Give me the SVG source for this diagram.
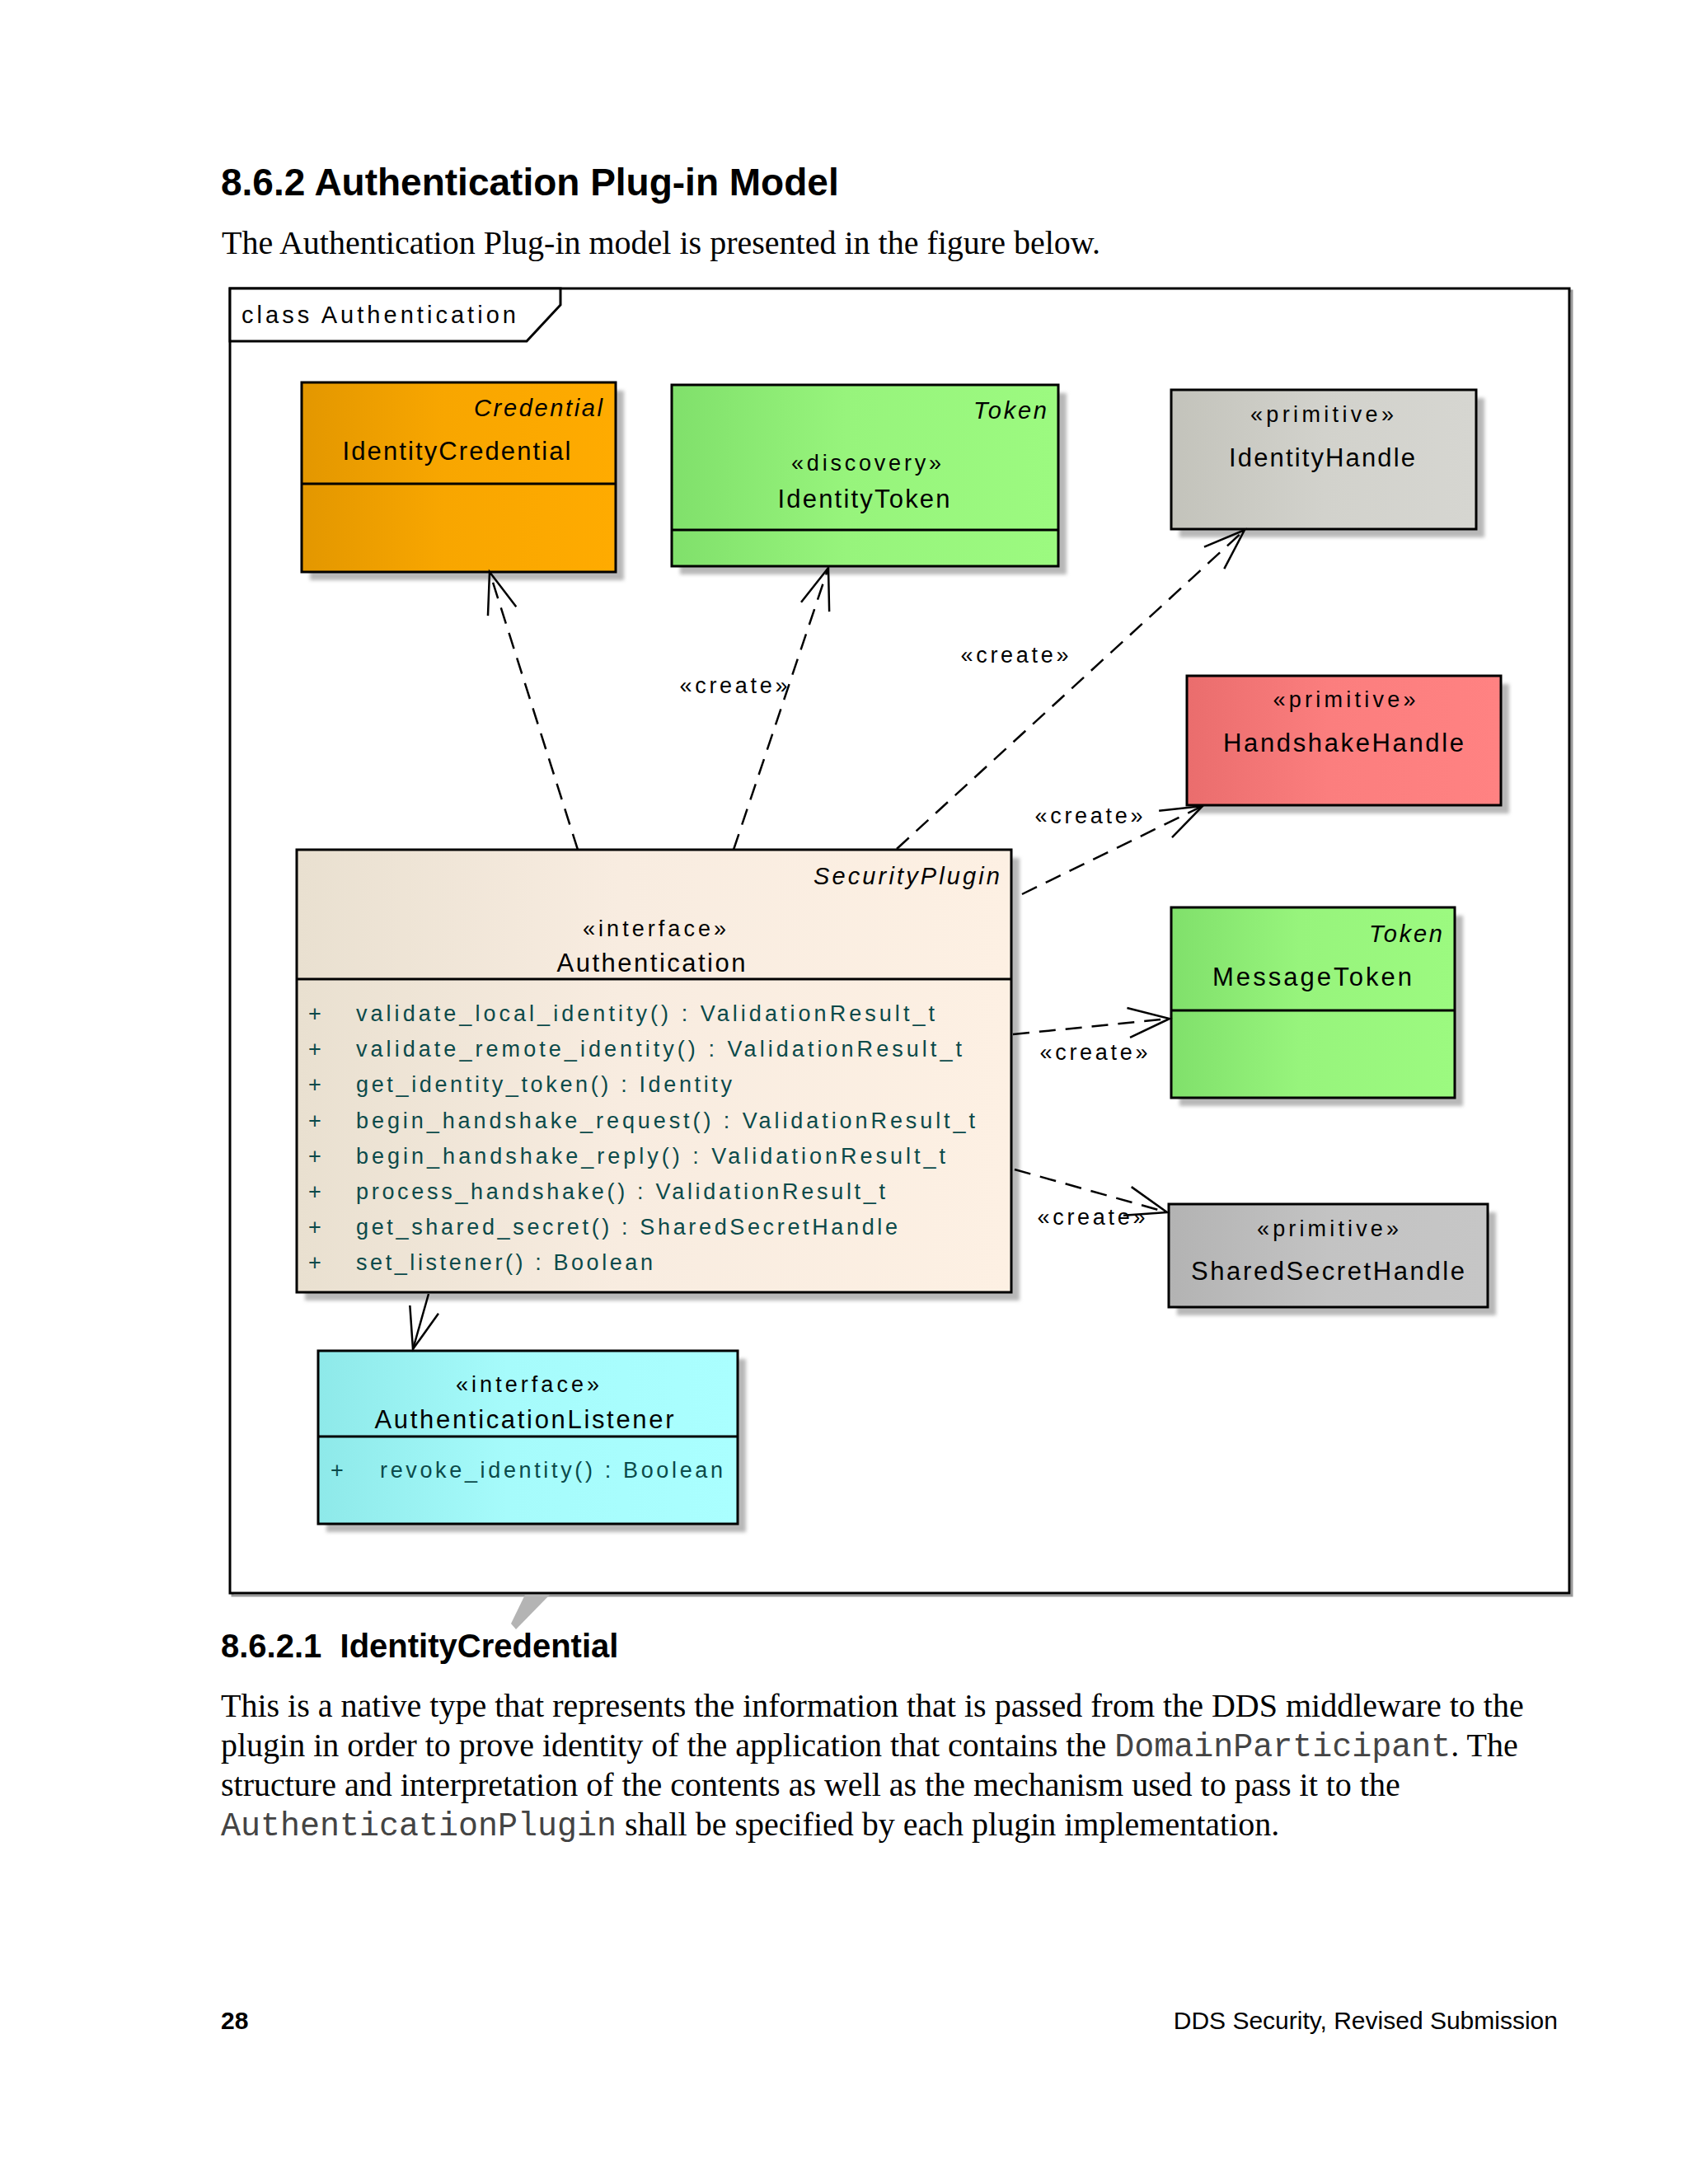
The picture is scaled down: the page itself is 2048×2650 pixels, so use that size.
<svg xmlns="http://www.w3.org/2000/svg" width="2048" height="2650" viewBox="0 0 2048 2650">
<defs>
<style>
.h1{font-family:"Liberation Sans",Arial,sans-serif;font-weight:bold;font-size:46px;fill:#000}
.h2{font-family:"Liberation Sans",Arial,sans-serif;font-weight:bold;font-size:40px;fill:#000}
.body{font-family:"Liberation Serif","Times New Roman",serif;font-size:40px;fill:#000}
.mono{font-family:"Liberation Mono","Courier New",monospace;font-size:40px;fill:#444}
.foot{font-family:"Liberation Sans",Arial,sans-serif;font-size:30px;fill:#000}
.box{stroke:#000;stroke-width:3}
.div{stroke:#000;stroke-width:3}
.shadow{fill:#b8b8b8;filter:url(#blur)}
.name{font-family:"Liberation Sans",Arial,sans-serif;font-size:31px;fill:#000}
.ster{font-family:"Liberation Sans",Arial,sans-serif;font-size:27px;fill:#000}
.par{font-family:"Liberation Sans",Arial,sans-serif;font-size:29px;font-style:italic;fill:#000}
.op{font-family:"Liberation Sans",Arial,sans-serif;font-size:27px;fill:#0b4a4a}
.lbl{font-family:"Liberation Sans",Arial,sans-serif;font-size:27px;fill:#000}
.frametxt{font-family:"Liberation Sans",Arial,sans-serif;font-size:29px;fill:#000}
.dep{fill:none;stroke:#000;stroke-width:2.5;stroke-dasharray:20 12}
.assoc{fill:none;stroke:#000;stroke-width:2.5}
</style>
<filter id="blur" x="-5%" y="-5%" width="110%" height="110%"><feGaussianBlur stdDeviation="2"/></filter>
<marker id="open" markerUnits="userSpaceOnUse" viewBox="-60 -30 70 60" markerWidth="70" markerHeight="60" refX="0" refY="0" orient="auto">
<path d="M-50,-18 L0,0 L-50,18" fill="none" stroke="#000" stroke-width="2.5"/>
</marker>
<linearGradient id="gOrange" x1="0" y1="0" x2="1" y2="0"><stop offset="0" stop-color="#e39700"/><stop offset="0.45" stop-color="#f8a600"/><stop offset="1" stop-color="#ffab00"/></linearGradient>
<linearGradient id="gGreen" x1="0" y1="0" x2="1" y2="0"><stop offset="0" stop-color="#80e06b"/><stop offset="0.45" stop-color="#97f47c"/><stop offset="1" stop-color="#9cfa80"/></linearGradient>
<linearGradient id="gGray1" x1="0" y1="0" x2="1" y2="0"><stop offset="0" stop-color="#c3c3bb"/><stop offset="0.5" stop-color="#d2d2cc"/><stop offset="1" stop-color="#d6d6d1"/></linearGradient>
<linearGradient id="gRed" x1="0" y1="0" x2="1" y2="0"><stop offset="0" stop-color="#ea6d6d"/><stop offset="0.45" stop-color="#fb7e7e"/><stop offset="1" stop-color="#ff8282"/></linearGradient>
<linearGradient id="gBeige" x1="0" y1="0" x2="1" y2="0"><stop offset="0" stop-color="#e9e0d0"/><stop offset="0.45" stop-color="#f8ece0"/><stop offset="1" stop-color="#fdf0e3"/></linearGradient>
<linearGradient id="gGray2" x1="0" y1="0" x2="1" y2="0"><stop offset="0" stop-color="#b3b3b3"/><stop offset="0.5" stop-color="#c3c3c3"/><stop offset="1" stop-color="#c6c6c6"/></linearGradient>
<linearGradient id="gCyan" x1="0" y1="0" x2="1" y2="0"><stop offset="0" stop-color="#8ee9e9"/><stop offset="0.45" stop-color="#a6fbfb"/><stop offset="1" stop-color="#aaffff"/></linearGradient>
</defs>
<rect x="0" y="0" width="2048" height="2650" fill="#ffffff"/>

<text class="h1" x="268" y="237">8.6.2 Authentication Plug-in Model</text>
<text class="body" x="269" y="308">The Authentication Plug-in model is presented in the figure below.</text>

<g id="frame">
<rect x="282" y="353" width="1625" height="1583" fill="none" stroke="#9a9a9a" stroke-width="3"/>
<rect x="279" y="350" width="1625" height="1583" fill="#fff" stroke="#000" stroke-width="3"/>
<polygon points="279,350 680,350 680,370 639,414 279,414" fill="#fff" stroke="#000" stroke-width="3"/>
<text class="frametxt" x="293" y="392" textLength="333" lengthAdjust="spacing">class Authentication</text>
</g>

<g id="IdentityCredential">
<rect class="shadow" x="376" y="474" width="381" height="230"/>
<rect class="box" x="366" y="464" width="381" height="230" fill="url(#gOrange)"/>
<line class="div" x1="366" y1="587" x2="747" y2="587"/>
<text class="par" x="731" y="505" text-anchor="end" textLength="156" lengthAdjust="spacing">Credential</text>
<text class="name" x="554" y="558" text-anchor="middle" textLength="277" lengthAdjust="spacing">IdentityCredential</text>
</g>

<g id="IdentityToken">
<rect class="shadow" x="825" y="477" width="469" height="220"/>
<rect class="box" x="815" y="467" width="469" height="220" fill="url(#gGreen)"/>
<line class="div" x1="815" y1="643" x2="1284" y2="643"/>
<text class="par" x="1270" y="508" text-anchor="end" textLength="89" lengthAdjust="spacing">Token</text>
<text class="ster" x="1051" y="571" text-anchor="middle" textLength="182" lengthAdjust="spacing">«discovery»</text>
<text class="name" x="1048" y="616" text-anchor="middle" textLength="209" lengthAdjust="spacing">IdentityToken</text>
</g>

<g id="IdentityHandle">
<rect class="shadow" x="1431" y="483" width="370" height="169"/>
<rect class="box" x="1421" y="473" width="370" height="169" fill="url(#gGray1)"/>
<text class="ster" x="1604" y="512" text-anchor="middle" textLength="174" lengthAdjust="spacing">«primitive»</text>
<text class="name" x="1604" y="566" text-anchor="middle" textLength="226" lengthAdjust="spacing">IdentityHandle</text>
</g>

<g id="HandshakeHandle">
<rect class="shadow" x="1450" y="830" width="381" height="157"/>
<rect class="box" x="1440" y="820" width="381" height="157" fill="url(#gRed)"/>
<text class="ster" x="1631" y="858" text-anchor="middle" textLength="173" lengthAdjust="spacing">«primitive»</text>
<text class="name" x="1630" y="912" text-anchor="middle" textLength="292" lengthAdjust="spacing">HandshakeHandle</text>
</g>

<g id="Authentication">
<rect class="shadow" x="370" y="1041" width="867" height="537"/>
<rect class="box" x="360" y="1031" width="867" height="537" fill="url(#gBeige)"/>
<line class="div" x1="360" y1="1188" x2="1227" y2="1188"/>
<text class="par" x="1213" y="1073" text-anchor="end" textLength="226" lengthAdjust="spacing">SecurityPlugin</text>
<text class="ster" x="794" y="1136" text-anchor="middle" textLength="174" lengthAdjust="spacing">«interface»</text>
<text class="name" x="790" y="1179" text-anchor="middle" textLength="229" lengthAdjust="spacing">Authentication</text>
<g class="op">
<text x="374" y="1239">+</text><text x="432" y="1239" textLength="702" lengthAdjust="spacing">validate_local_identity() : ValidationResult_t</text>
<text x="374" y="1282">+</text><text x="432" y="1282" textLength="735" lengthAdjust="spacing">validate_remote_identity() : ValidationResult_t</text>
<text x="374" y="1325">+</text><text x="432" y="1325" textLength="456" lengthAdjust="spacing">get_identity_token() : Identity</text>
<text x="374" y="1369">+</text><text x="432" y="1369" textLength="751" lengthAdjust="spacing">begin_handshake_request() : ValidationResult_t</text>
<text x="374" y="1412">+</text><text x="432" y="1412" textLength="715" lengthAdjust="spacing">begin_handshake_reply() : ValidationResult_t</text>
<text x="374" y="1455">+</text><text x="432" y="1455" textLength="642" lengthAdjust="spacing">process_handshake() : ValidationResult_t</text>
<text x="374" y="1498">+</text><text x="432" y="1498" textLength="657" lengthAdjust="spacing">get_shared_secret() : SharedSecretHandle</text>
<text x="374" y="1541">+</text><text x="432" y="1541" textLength="360" lengthAdjust="spacing">set_listener() : Boolean</text>
</g>
</g>

<g id="MessageToken">
<rect class="shadow" x="1431" y="1111" width="344" height="231"/>
<rect class="box" x="1421" y="1101" width="344" height="231" fill="url(#gGreen)"/>
<line class="div" x1="1421" y1="1226" x2="1765" y2="1226"/>
<text class="par" x="1750" y="1143" text-anchor="end" textLength="89" lengthAdjust="spacing">Token</text>
<text class="name" x="1592" y="1196" text-anchor="middle" textLength="242" lengthAdjust="spacing">MessageToken</text>
</g>

<g id="SharedSecretHandle">
<rect class="shadow" x="1428" y="1471" width="387" height="125"/>
<rect class="box" x="1418" y="1461" width="387" height="125" fill="url(#gGray2)"/>
<text class="ster" x="1611" y="1500" text-anchor="middle" textLength="172" lengthAdjust="spacing">«primitive»</text>
<text class="name" x="1611" y="1553" text-anchor="middle" textLength="332" lengthAdjust="spacing">SharedSecretHandle</text>
</g>

<g id="AuthenticationListener">
<rect class="shadow" x="396" y="1649" width="509" height="210"/>
<rect class="box" x="386" y="1639" width="509" height="210" fill="url(#gCyan)"/>
<line class="div" x1="386" y1="1743" x2="895" y2="1743"/>
<text class="ster" x="640" y="1689" text-anchor="middle" textLength="174" lengthAdjust="spacing">«interface»</text>
<text class="name" x="636" y="1733" text-anchor="middle" textLength="363" lengthAdjust="spacing">AuthenticationListener</text>
<text class="op" x="401" y="1793">+</text>
<text class="op" x="461" y="1793" textLength="416" lengthAdjust="spacing">revoke_identity() : Boolean</text>
</g>

<g id="connectors">
<line class="dep" x1="701" y1="1031" x2="594" y2="694" marker-end="url(#open)"/>
<line class="dep" x1="890" y1="1031" x2="1005" y2="689" marker-end="url(#open)"/>
<line class="dep" x1="1088" y1="1030" x2="1510" y2="643" marker-end="url(#open)"/>
<line class="dep" x1="1240" y1="1085" x2="1459" y2="978" marker-end="url(#open)"/>
<line class="dep" x1="1229" y1="1255" x2="1419" y2="1236" marker-end="url(#open)"/>
<line class="dep" x1="1231" y1="1419" x2="1416" y2="1471" marker-end="url(#open)"/>
<line class="assoc" x1="520" y1="1570" x2="501" y2="1637" marker-end="url(#open)"/>
<text class="lbl" x="890" y="841" text-anchor="middle" textLength="131" lengthAdjust="spacing">«create»</text>
<text class="lbl" x="1231" y="804" text-anchor="middle" textLength="131" lengthAdjust="spacing">«create»</text>
<text class="lbl" x="1321" y="999" text-anchor="middle" textLength="131" lengthAdjust="spacing">«create»</text>
<text class="lbl" x="1327" y="1286" text-anchor="middle" textLength="131" lengthAdjust="spacing">«create»</text>
<text class="lbl" x="1324" y="1486" text-anchor="middle" textLength="131" lengthAdjust="spacing">«create»</text>
</g>

<polygon points="637,1935 667,1935 626,1977 620,1970" fill="#b4b4b4"/>

<text class="h2" x="268" y="2011">8.6.2.1&#160; IdentityCredential</text>
<text class="body" x="268" y="2083">This is a native type that represents the information that is passed from the DDS middleware to the</text>
<text class="body" x="268" y="2131">plugin in order to prove identity of the application that contains the <tspan class="mono">DomainParticipant</tspan>. The</text>
<text class="body" x="268" y="2179">structure and interpretation of the contents as well as the mechanism used to pass it to the</text>
<text class="body" x="268" y="2227"><tspan class="mono">AuthenticationPlugin</tspan> shall be specified by each plugin implementation.</text>

<text class="foot" x="268" y="2462" font-weight="bold">28</text>
<text class="foot" x="1890" y="2462" text-anchor="end">DDS Security, Revised Submission</text>
</svg>
